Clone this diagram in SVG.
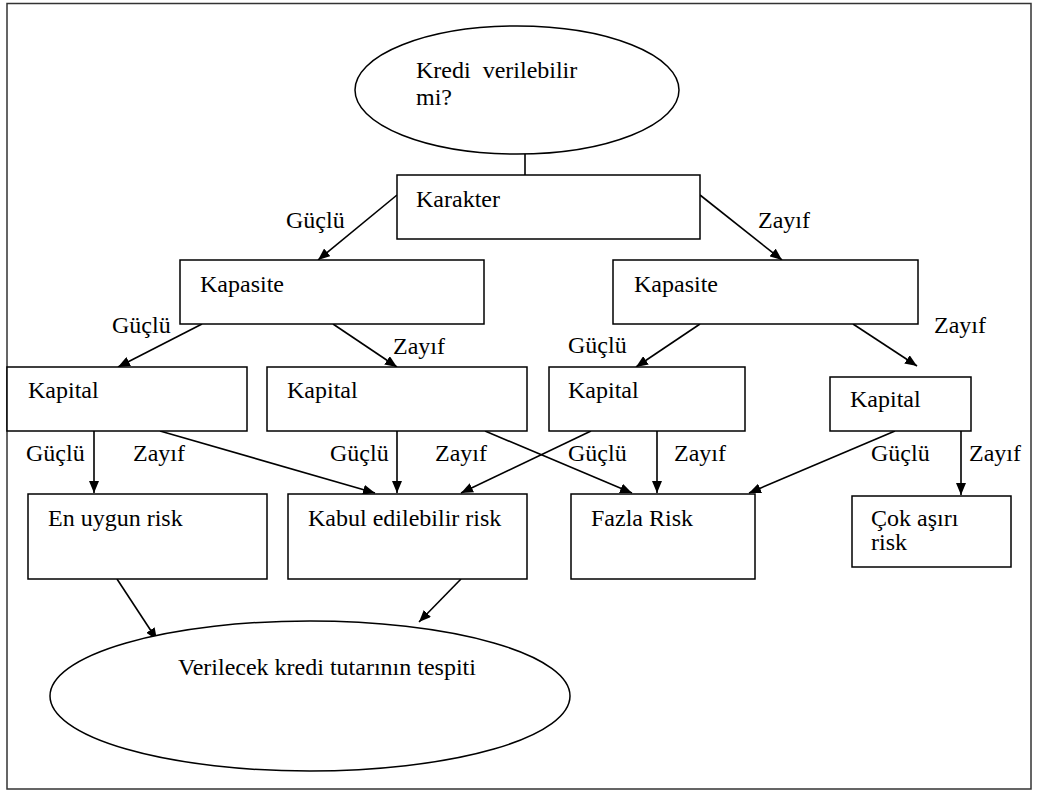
<svg xmlns="http://www.w3.org/2000/svg" width="1038" height="792" viewBox="0 0 1038 792">
<defs>
<marker id="ah" viewBox="0 0 12 10" refX="12" refY="5" markerWidth="12" markerHeight="10" markerUnits="userSpaceOnUse" orient="auto">
<path d="M0,0 L12,5 L0,10 Z" fill="#000"/>
</marker>
<style>
.box{fill:#fff;stroke:#000;stroke-width:1.5}
.t{font-family:"Liberation Serif","Times New Roman",serif;font-size:24px;fill:#000}
.c{stroke:#000;stroke-width:1.6;fill:none}
.ca{stroke:#000;stroke-width:1.6;fill:none;marker-end:url(#ah)}
</style>
</defs>
<rect x="0" y="0" width="1038" height="792" fill="#fff"/>
<rect x="7" y="3.5" width="1024" height="785.5" fill="none" stroke="#333" stroke-width="1.5"/>

<g id="connectors">
<line class="c" x1="525" y1="154" x2="525" y2="175"/>
<line class="ca" x1="397" y1="195" x2="318" y2="260"/>
<line class="ca" x1="700" y1="195" x2="782" y2="260"/>
<line class="ca" x1="202" y1="324" x2="118" y2="367"/>
<line class="ca" x1="333" y1="324" x2="397" y2="367"/>
<line class="ca" x1="700" y1="324" x2="636" y2="367"/>
<line class="ca" x1="853" y1="324" x2="917" y2="366"/>
<line class="ca" x1="94" y1="431" x2="94" y2="493"/>
<line class="ca" x1="160" y1="431" x2="375" y2="493"/>
<line class="ca" x1="397" y1="431" x2="397" y2="493"/>
<line class="ca" x1="485" y1="431" x2="632" y2="493"/>
<line class="ca" x1="591" y1="431" x2="461" y2="493"/>
<line class="ca" x1="657" y1="431" x2="657" y2="493"/>
<line class="ca" x1="895" y1="431" x2="749" y2="493"/>
<line class="ca" x1="961" y1="431" x2="961" y2="495"/>
<line class="ca" x1="117" y1="579" x2="157" y2="640"/>
<line class="ca" x1="461" y1="579" x2="419" y2="622"/>
</g>

<g id="labels" class="t">
<text x="286" y="228">Güçlü</text>
<text x="758" y="228">Zayıf</text>
<text x="112" y="333">Güçlü</text>
<text x="393" y="354">Zayıf</text>
<text x="568" y="353">Güçlü</text>
<text x="934" y="333">Zayıf</text>
<text x="26" y="461">Güçlü</text>
<text x="133" y="461">Zayıf</text>
<text x="330" y="461">Güçlü</text>
<text x="435" y="461">Zayıf</text>
<text x="568" y="461">Güçlü</text>
<text x="674" y="461">Zayıf</text>
<text x="871" y="461">Güçlü</text>
<text x="969" y="461">Zayıf</text>
</g>

<g id="start">
<ellipse class="box" cx="517" cy="90" rx="162" ry="64"/>
<text class="t" x="416" y="78" xml:space="preserve">Kredi  verilebilir</text>
<text class="t" x="416" y="105">mi?</text>
</g>
<g id="karakter">
<rect class="box" x="397" y="175" width="303" height="64"/>
<text class="t" x="416" y="207">Karakter</text>
</g>
<g id="kapasite1">
<rect class="box" x="180" y="260" width="304" height="64"/>
<text class="t" x="200" y="292">Kapasite</text>
</g>
<g id="kapasite2">
<rect class="box" x="613" y="260" width="305" height="64"/>
<text class="t" x="634" y="292">Kapasite</text>
</g>
<g id="kapital1">
<rect class="box" x="7" y="367" width="240" height="64"/>
<text class="t" x="28" y="398">Kapital</text>
</g>
<g id="kapital2">
<rect class="box" x="267" y="367" width="260" height="64"/>
<text class="t" x="287" y="398">Kapital</text>
</g>
<g id="kapital3">
<rect class="box" x="549" y="367" width="196" height="64"/>
<text class="t" x="568" y="398">Kapital</text>
</g>
<g id="kapital4">
<rect class="box" x="830" y="377" width="141" height="54"/>
<text class="t" x="850" y="407">Kapital</text>
</g>
<g id="enuygun">
<rect class="box" x="28" y="494" width="239" height="85"/>
<text class="t" x="48" y="526">En uygun risk</text>
</g>
<g id="kabul">
<rect class="box" x="288" y="494" width="239" height="85"/>
<text class="t" x="308" y="526">Kabul edilebilir risk</text>
</g>
<g id="fazla">
<rect class="box" x="571" y="494" width="184" height="85"/>
<text class="t" x="591" y="526">Fazla Risk</text>
</g>
<g id="cok">
<rect class="box" x="852" y="496" width="159" height="71"/>
<text class="t" x="871" y="526">Çok aşırı</text>
<text class="t" x="871" y="550">risk</text>
</g>
<g id="end">
<ellipse class="box" cx="310" cy="696" rx="260" ry="75"/>
<text class="t" x="178" y="675">Verilecek kredi tutarının tespiti</text>
</g>
</svg>
